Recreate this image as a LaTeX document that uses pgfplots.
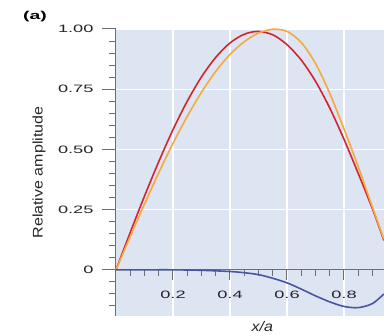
\documentclass[border=0pt]{standalone}
\usepackage{fontspec}
\setmainfont{Liberation Sans}
\newfontfamily\tickfont[FakeStretch=1.7]{Liberation Sans}
\newfontfamily\labfont[FakeStretch=1.15]{Liberation Sans}
\usepackage{pgfplots}
\pgfplotsset{compat=1.18}
\definecolor{bgc}{RGB}{221,228,242}
\definecolor{redc}{RGB}{212,36,46}
\definecolor{orc}{RGB}{244,170,62}
\definecolor{bluc}{RGB}{72,86,160}
\definecolor{axc}{RGB}{110,110,110}
\pgfplotstableread{
x y
0 0
0.05 0.155
0.1 0.306
0.15 0.449
0.2 0.582
0.25 0.700
0.3 0.801
0.35 0.882
0.4 0.942
0.45 0.978
0.498 0.990
0.55 0.976
0.6 0.935
0.65 0.871
0.7 0.783
0.75 0.672
0.8 0.542
0.85 0.400
0.9 0.253
0.94 0.122
}\redtab
\pgfplotstableread{
x y
0 0
0.05 0.138
0.1 0.273
0.15 0.403
0.2 0.525
0.25 0.637
0.3 0.737
0.35 0.824
0.4 0.894
0.45 0.947
0.5 0.983
0.55 0.999
0.6 0.990
0.65 0.944
0.7 0.857
0.75 0.733
0.8 0.585
0.85 0.428
0.9 0.260
0.94 0.127
}\oratab
\pgfplotstableread{
x y
0 0
0.1 0
0.2 0
0.3 -0.002
0.4 -0.007
0.45 -0.012
0.5 -0.02
0.55 -0.035
0.6 -0.054
0.65 -0.08
0.7 -0.108
0.75 -0.133
0.8 -0.152
0.85 -0.157
0.9 -0.14
0.94 -0.10
}\blutab
\begin{document}
\begin{tikzpicture}
\begin{axis}[
  name=ax,
  scale only axis, width=268bp, height=287bp,
  xmin=0, xmax=0.9404, ymin=-0.1917, ymax=1.0,
  axis x line*=middle, axis y line*=left,
  axis line style={draw=axc, line width=1bp, -},
  axis background/.style={fill=bgc},
  clip=false,
  xtick={0.2,0.4,0.6,0.8},
  xticklabels={0.2,0.4,0.6,0.8},
  minor xtick={0.05,0.1,0.15,0.25,0.3,0.35,0.45,0.5,0.55,0.65,0.7,0.75,0.85,0.9},
  ytick={0,0.25,0.5,0.75,1},
  yticklabels={0,0.25,0.50,0.75,1.00},
  minor ytick={-0.15,-0.1,-0.05,0.05,0.1,0.15,0.2,0.3,0.35,0.4,0.45,0.55,0.6,0.65,0.7,0.8,0.85,0.9,0.95},
  tick align=outside,
  major tick length=14bp, minor tick length=7bp,
  xtick style={/pgfplots/major tick length=10bp, /pgfplots/minor tick length=6bp},
  tick style={draw=axc, line width=1bp},
  grid=major,
  major grid style={white, line width=1.3bp},
  /pgf/number format/assume math mode=true,
  ticklabel style={font=\tickfont\fontsize{10.75}{12}\selectfont, text=black!85},
  yticklabel style={xshift=-5bp},
  xticklabel style={yshift=-4bp},
  xlabel={\itshape x/a},
  ylabel={Relative amplitude},
  label style={font=\labfont\fontsize{14}{16}\selectfont, text=black!85},
  xlabel style={at={(rel axis cs:0.546,-0.038)}, anchor=center},
  ylabel style={at={(rel axis cs:-0.287,0.5)}, anchor=center, rotate=0},
  after end axis/.code={
    \node[font=\tickfont\bfseries\fontsize{11.5}{12}\selectfont, anchor=center] at (rel axis cs:-0.302,1.045) {(a)};
    \coordinate (bl) at (rel axis cs:-0.4328,-0.0697);
    \coordinate (tr) at (rel axis cs:1,1.101);
  },
]
\addplot[redc, line width=1.6bp, smooth] table[x=x,y=y] {\redtab};
\addplot[orc, line width=1.6bp, smooth] table[x=x,y=y] {\oratab};
\addplot[bluc, line width=1.6bp, smooth] table[x=x,y=y] {\blutab};
\end{axis}
\pgfresetboundingbox
\path[use as bounding box] (bl) rectangle (tr);
\end{tikzpicture}
\end{document}
